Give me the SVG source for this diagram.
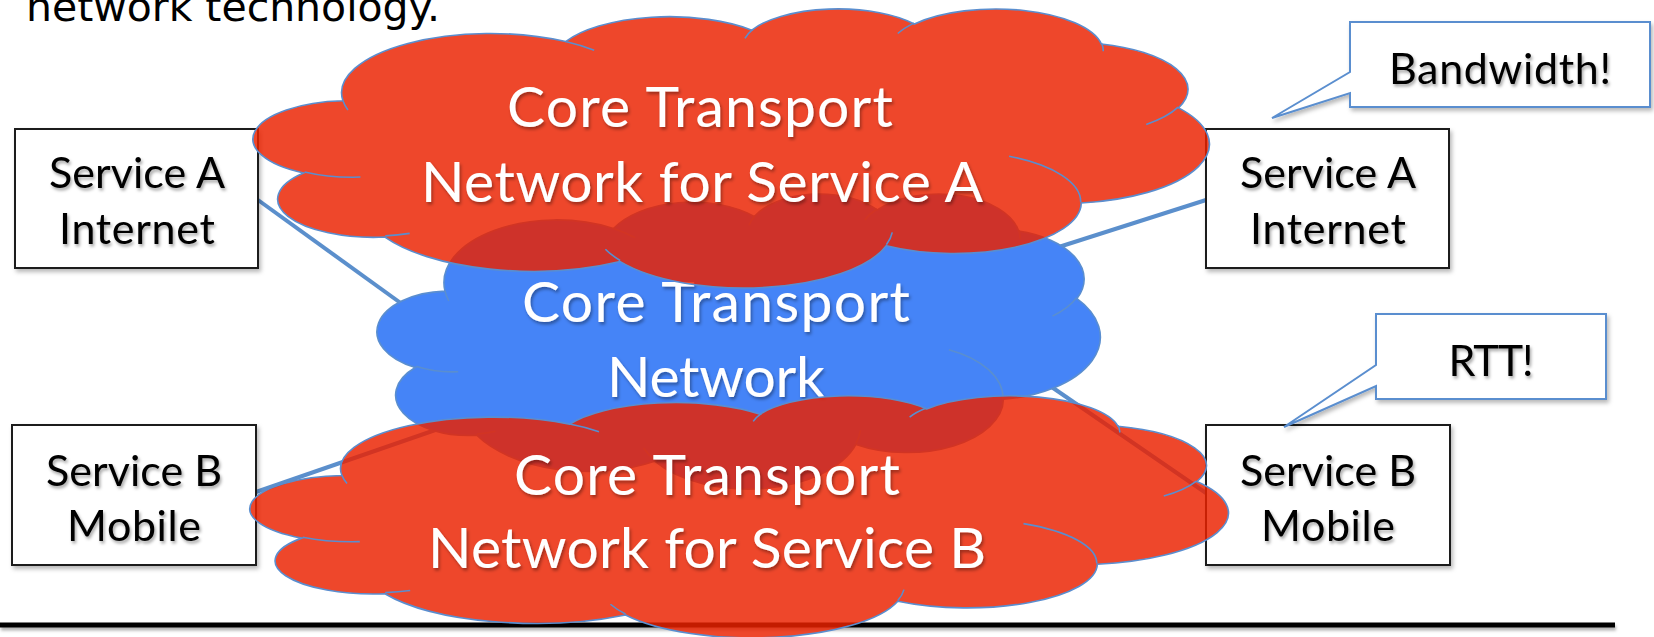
<svg xmlns="http://www.w3.org/2000/svg" xmlns:xlink="http://www.w3.org/1999/xlink" width="1654" height="637" viewBox="0 0 1654 637">
  <defs>
    <style>
      .cloud { stroke: #5A8ECF; stroke-width: 1.6; }
      .red { fill: #EB2200; fill-opacity: 0.83; }
      .blue { fill: #4584F7; }
      .inner { fill: none; stroke: #5A8ECF; stroke-width: 1.6; }
      .cloud-text { font-family: Lato, "Open Sans", sans-serif; font-size: 57px; fill: #ffffff; text-anchor: middle; filter: url(#textShadow); }
      .box { fill: #ffffff; stroke: #1a1a1a; stroke-width: 2; filter: url(#boxShadow); }
      .box-text { font-family: Lato, "Open Sans", sans-serif; font-size: 43px; fill: #000000; text-anchor: middle; filter: url(#textShadow); }
      .callout { fill: #ffffff; stroke: #5A8ECF; stroke-width: 2; filter: url(#boxShadow); }
      .link { fill: none; stroke: #5B8FCC; stroke-width: 4; }
      .heading { font-family: "DejaVu Sans", Verdana, sans-serif; font-size: 40px; fill: #000000; }
    </style>
    <filter id="boxShadow" x="-10%" y="-10%" width="125%" height="135%">
      <feDropShadow dx="2" dy="3" stdDeviation="2" flood-color="#000000" flood-opacity="0.28"/>
    </filter>
    <filter id="ruleShadow" filterUnits="userSpaceOnUse" x="-10" y="610" width="1650" height="27">
      <feDropShadow dx="1" dy="3" stdDeviation="1.5" flood-color="#000000" flood-opacity="0.3"/>
    </filter>
    <filter id="textShadow" x="-5%" y="-20%" width="115%" height="150%">
      <feDropShadow dx="1.5" dy="2.5" stdDeviation="1.5" flood-color="#000000" flood-opacity="0.35"/>
    </filter>
    <!-- cloud outline in a 432 x 432 frame, eleven elliptic bumps -->
    <path id="cloud-outline" vector-effect="non-scaling-stroke"
      d="M39,143.7 A67.53,91.9 0 0 1 140.05,52.02 A53.33,72.67 0 0 1 224.56,34.32 A43.65,59.45 0 0 1 298.33,24.81 A48.57,65.95 0 0 1 383.18,55.76 A53.33,72.73 0 0 1 418.18,154.6 A67.75,92.2 0 0 1 374.04,302.03 A57.85,78.67 0 0 1 285.56,368.14 A67.52,92.15 0 0 1 164.8,392.65 A77.2,105.43 0 0 1 58.05,354.71 A43.6,59.18 0 0 1 21.13,255.49 A43.45,59.45 0 0 1 39,143.7 Z"/>
    <!-- short inner strokes where the bumps meet -->
    <path id="cloud-inner" vector-effect="non-scaling-stroke"
      d="M46.93,261.77 A43.45,59.45 0 0 1 21.6,253.8 M69.28,348.99 A43.6,59.18 0 0 1 58.2,352.81 M164.78,390.9 A67.52,92.15 0 0 1 158.1,373.5 M288.27,347.51 A67.52,92.15 0 0 1 285.6,366.6 M341.29,229.54 A57.85,78.67 0 0 1 373.8,300.73 M417.98,153.54 A53.33,72.73 0 0 1 403.51,180.3 M383.24,54.26 A48.57,65.95 0 0 1 384,66.9 M290.78,39.52 A48.57,65.95 0 0 1 298.2,23.4 M221.41,47.2 A43.65,59.45 0 0 1 225,33.29 M140,51.92 A67.53,91.9 0 0 1 153.01,65.4 M41.27,157.89 A67.53,91.9 0 0 1 39,143.7"/>
  </defs>

  <rect x="0" y="0" width="1654" height="637" fill="#ffffff"/>

  <text class="heading" x="26" y="21" textLength="414" lengthAdjust="spacingAndGlyphs">network technology.</text>

  <!-- links from the service boxes to the core network -->
  <g id="connectors">
    <line class="link" x1="258" y1="200" x2="420" y2="317"/>
    <line class="link" x1="1206" y1="200" x2="1040" y2="253"/>
    <line class="link" x1="256" y1="492" x2="470" y2="418"/>
    <line class="link" x1="1206" y1="493" x2="1040" y2="379"/>
  </g>

  <g id="service-a-left">
    <rect class="box" x="15" y="129" width="243" height="139"/>
    <text class="box-text" x="137" y="188" textLength="176">Service A</text>
    <text class="box-text" x="137" y="244" textLength="156">Internet</text>
  </g>
  <g id="service-a-right">
    <rect class="box" x="1206" y="129" width="243" height="139"/>
    <text class="box-text" x="1328" y="188" textLength="176">Service A</text>
    <text class="box-text" x="1328" y="244" textLength="156">Internet</text>
  </g>
  <g id="service-b-left">
    <rect class="box" x="12" y="425" width="244" height="140"/>
    <text class="box-text" x="134" y="486" textLength="176">Service B</text>
    <text class="box-text" x="134" y="541" textLength="134">Mobile</text>
  </g>
  <g id="service-b-right">
    <rect class="box" x="1206" y="425" width="244" height="140"/>
    <text class="box-text" x="1328" y="486" textLength="176">Service B</text>
    <text class="box-text" x="1328" y="541" textLength="134">Mobile</text>
  </g>

  <!-- horizontal rule under the figure -->
  <rect id="baseline-rule" x="0" y="622.5" width="1615" height="5" fill="#000000" filter="url(#ruleShadow)"/>

  <g id="core-network">
    <use xlink:href="#cloud-outline" class="blue cloud" transform="translate(380,193) scale(1.6667,0.6829)"/>
    <use xlink:href="#cloud-inner" class="inner" transform="translate(380,193) scale(1.6667,0.6829)"/>
    <text class="cloud-text" x="716" y="322" textLength="388">Core Transport</text>
    <text class="cloud-text" x="716" y="397" textLength="218">Network</text>
  </g>

  <g id="core-service-a">
    <use xlink:href="#cloud-outline" class="red cloud" transform="translate(257,8) scale(2.2037,0.6458)"/>
    <use xlink:href="#cloud-inner" class="inner" transform="translate(257,8) scale(2.2037,0.6458)"/>
    <text class="cloud-text" x="700" y="127" textLength="386">Core Transport</text>
    <text class="cloud-text" x="702" y="202" textLength="562">Network for Service A</text>
  </g>

  <g id="core-service-b">
    <use xlink:href="#cloud-outline" class="red cloud" transform="translate(254,395) scale(2.2546,0.5602)"/>
    <use xlink:href="#cloud-inner" class="inner" transform="translate(254,395) scale(2.2546,0.5602)"/>
    <text class="cloud-text" x="707" y="495" textLength="386">Core Transport</text>
    <text class="cloud-text" x="707" y="568" textLength="558">Network for Service B</text>
  </g>

  <g id="callout-bandwidth">
    <path class="callout" d="M1350,22 H1650 V107 H1350 V93 L1272,118 L1350,72 Z"/>
    <text class="box-text" x="1500" y="84" textLength="222">Bandwidth!</text>
  </g>
  <g id="callout-rtt">
    <path class="callout" d="M1376,314 H1606 V399 H1376 V386 L1284,427 L1376,365 Z"/>
    <text class="box-text" x="1491" y="376" textLength="85">RTT!</text>
  </g>
</svg>
